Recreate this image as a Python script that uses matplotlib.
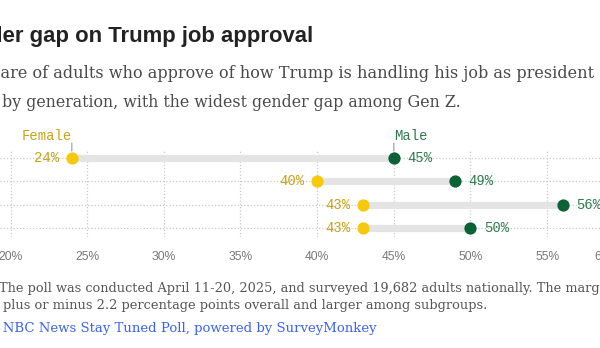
import numpy as np
import matplotlib
matplotlib.use("Agg")
import matplotlib.pyplot as plt

# approval share by generation (rows top to bottom), in percent
generations = ["Gen Z", "Millennials", "Gen X", "Boomers"]
female = [24, 40, 43, 43]
male = [45, 49, 56, 50]
ticks = [20, 25, 30, 35, 40, 45, 50, 55, 60]
tick_labels = ["20%", "25%", "30%", "35%", "40%", "45%", "50%", "55%", "60%"]

W, H = 600, 348
fig = plt.figure(figsize=(W / 100, H / 100), dpi=100)
fig.patch.set_facecolor("white")


def px(x, y):
    # pixel position -> figure fraction
    return x / W, 1 - y / H


YELLOW = "#f6c90e"
YELLOW_TXT = "#c9a214"
GREEN = "#0b6335"
GREEN_TXT = "#2f7d4f"
GRID = "#c8c8c8"
TICK_KW = dict(fontsize=8.7, color="#777777", family="Liberation Sans")

# axes run past the right edge; the scale keeps going beyond the canvas
ax_top, ax_bot, ax_w = 150, 237, 680
ax = fig.add_axes([0, 1 - ax_bot / H, ax_w / W, (ax_bot - ax_top) / H])
for s in ax.spines.values():
    s.set_visible(False)
ax.set_yticks([])
ax.set_xticks(ticks[:-1])
ax.set_xticklabels(tick_labels[:-1], **TICK_KW)
ax.tick_params(axis="x", length=0, pad=10)
ppp = (394 - 72) / 21.0
x0 = 20 - 10.5 / ppp
ax.set_xlim(x0, x0 + ax_w / ppp)   # after set_xticks, which would widen the view
ax.set_ylim(3.39, -0.34)

# last label is pulled in to end at the edge of the scale
ax.annotate(tick_labels[-1], (ticks[-1], 0), xycoords=("data", "axes fraction"),
            xytext=(-4, -10), textcoords="offset points", ha="right", va="top",
            annotation_clip=False, **TICK_KW)

# dotted grid
for t in ticks:
    ax.axvline(t, color=GRID, lw=0.9, ls=(0, (1, 1.6)), zorder=0)
y = np.arange(len(generations))
for yy in y:
    ax.axhline(yy, color=GRID, lw=0.9, ls=(0, (1, 1.6)), zorder=0)

# connector bars and dots
for yy, f, m in zip(y, female, male):
    ax.plot([f, m], [yy, yy], color="#e4e4e4", lw=5.2, solid_capstyle="butt", zorder=1)
ax.scatter(female, y, s=78, color=YELLOW, zorder=3, linewidths=0)
ax.scatter(male, y, s=78, color=GREEN, zorder=3, linewidths=0)

for yy, f, m in zip(y, female, male):
    ax.annotate(f"{f}%", (f, yy), xytext=(-9.5, 0), textcoords="offset points",
                ha="right", va="center", fontsize=10, color=YELLOW_TXT,
                family="Liberation Mono")
    ax.annotate(f"{m}%", (m, yy), xytext=(9.5, 0), textcoords="offset points",
                ha="left", va="center", fontsize=10, color=GREEN_TXT,
                family="Liberation Mono")

# series labels above the first row, with short leader ticks
ax.annotate("Female", (female[0], 0), xytext=(0, 13), textcoords="offset points",
            ha="right", va="baseline", fontsize=10, color=YELLOW_TXT,
            family="Liberation Mono", annotation_clip=False)
ax.annotate("Male", (male[0], 0), xytext=(0, 13), textcoords="offset points",
            ha="left", va="baseline", fontsize=10, color=GREEN_TXT,
            family="Liberation Mono", annotation_clip=False)
for v in (female[0], male[0]):
    ax.annotate("", (v, -0.3), xytext=(v, -0.64), annotation_clip=False,
                arrowprops=dict(arrowstyle="-", color="#999999", lw=0.8,
                                shrinkA=0, shrinkB=0))

# title, subtitle, notes
fig.text(*px(-11, 42), "der gap on Trump job approval", fontsize=15.9,
         fontweight="bold", color="#222222",
         family=["Liberation Sans Narrow", "Liberation Sans"],
         ha="left", va="baseline")
fig.text(*px(594, 78), "Share of adults who approve of how Trump is handling his job as president",
         fontsize=11.6, color="#4a4a4a", family="DejaVu Serif", ha="right", va="baseline")
fig.text(*px(2, 107), "by generation, with the widest gender gap among Gen Z.",
         fontsize=11.4, color="#4a4a4a", family="DejaVu Serif", ha="left", va="baseline")

fig.text(*px(-1, 292), "The poll was conducted April 11-20, 2025, and surveyed 19,682 adults "
         "nationally. The margin of error is", fontsize=9.3, color="#555555",
         family="DejaVu Serif", ha="left", va="baseline")
fig.text(*px(3, 309), "plus or minus 2.2 percentage points overall and larger among subgroups.",
         fontsize=9.4, color="#555555", family="DejaVu Serif", ha="left", va="baseline")
fig.text(*px(377, 332), "Source: NBC News Stay Tuned Poll, powered by SurveyMonkey",
         fontsize=9.5, color="#3a63f0", family="DejaVu Serif", ha="right", va="baseline")

fig.savefig("out.png", dpi=100)
